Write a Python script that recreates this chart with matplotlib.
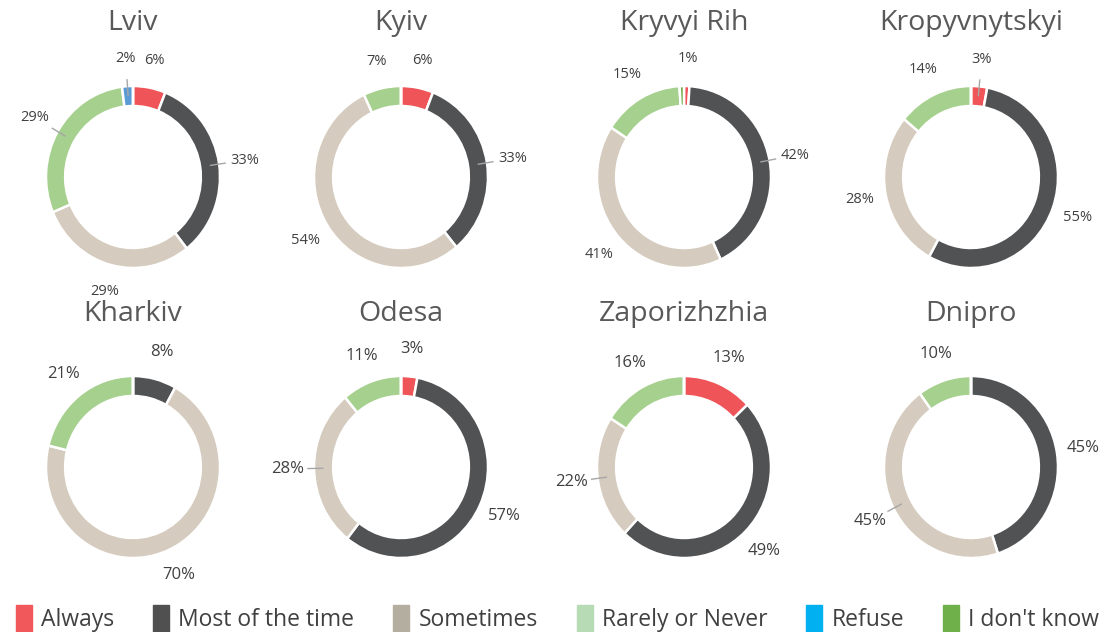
import matplotlib
matplotlib.use("Agg")
import matplotlib.pyplot as plt
from matplotlib.patches import Rectangle
import numpy as np

plt.rcParams['font.family'] = ['Open Sans', 'DejaVu Sans']

categories = ["Always", "Most of the time", "Sometimes", "Rarely or Never", "Refuse", "I don't know"]

cities = ["Lviv", "Kyiv", "Kryvyi Rih", "Kropyvnytskyi",
          "Kharkiv", "Odesa", "Zaporizhzhia", "Dnipro"]

# percent per category, same order as categories
lviv = [6, 33, 29, 29, 2, 0]
kyiv = [6, 33, 54, 7, 0, 0]
kryvyi_rih = [1, 42, 41, 15, 0, 0.8]
kropyvnytskyi = [3, 55, 28, 14, 0, 0]
kharkiv = [0, 8, 70, 21, 0, 0]
odesa = [3, 57, 28, 11, 0, 0]
zaporizhzhia = [13, 49, 22, 16, 0, 0]
dnipro = [0, 45, 45, 10, 0, 0]

city_values = [lviv, kyiv, kryvyi_rih, kropyvnytskyi,
               kharkiv, odesa, zaporizhzhia, dnipro]

# which labels get a leader line
leaders = {
    "Lviv": ["Most of the time", "Rarely or Never", "Refuse"],
    "Kyiv": ["Most of the time"],
    "Kryvyi Rih": ["Most of the time"],
    "Kropyvnytskyi": ["Always"],
    "Odesa": ["Sometimes"],
    "Zaporizhzhia": ["Sometimes"],
    "Dnipro": ["Sometimes"],
}

ring_colors = ["#EF5558", "#515254", "#D5CBBE", "#A6D08E", "#5B9BD5", "#70AD47"]
legend_colors = ["#F0585C", "#505050", "#B3AE9F", "#B7DBB5", "#00B0F0", "#70B04A"]

W, H = 1113, 632
fig = plt.figure(figsize=(W / 100, H / 100), dpi=100)

col_x = [133, 401, 684, 971]
row_y = [177, 467]
title_y = [23, 314]
RX, RY = 87, 91
S = 280

for i, (city, vals) in enumerate(zip(cities, city_values)):
    r, c = divmod(i, 4)
    cx, cy = col_x[c], row_y[r]
    ax = fig.add_axes([(cx - S / 2) / W, 1 - (cy + S / 2) / H, S / W, S / H])
    wedges, _ = ax.pie(vals, colors=ring_colors, startangle=90, counterclock=False,
                       wedgeprops=dict(width=0.22, edgecolor="white", linewidth=1.8))
    ax.set_xlim(-S / 2 / RX, S / 2 / RX)
    ax.set_ylim(-S / 2 / RY, S / 2 / RY)
    ax.set_aspect('auto')
    fs = 10.5 if r == 0 else 12
    for w, v, cat in zip(wedges, vals, categories):
        if v < 1:
            continue
        ang = np.deg2rad((w.theta1 + w.theta2) / 2)
        lx, ly = 1.3 * np.cos(ang), 1.3 * np.sin(ang)
        ax.text(lx, ly, f"{v:g}%", ha="center", va="center", fontsize=fs, color="#404040")
        if cat in leaders.get(city, []):
            ax.plot([0.9 * np.cos(ang), 1.07 * np.cos(ang)],
                    [0.9 * np.sin(ang), 1.07 * np.sin(ang)],
                    color="#A6A6A6", lw=1)
    fig.text(cx / W, 1 - title_y[r] / H, city, ha="center", va="center",
             fontsize=20.5, color="#595959")

handles = [Rectangle((0, 0), 1, 1, color=col) for col in legend_colors]
fig.legend(handles, categories, loc="lower left", ncol=6, mode="expand",
           bbox_to_anchor=(0.004, -0.018, 0.994, 0.07), frameon=False,
           fontsize=16.5, handlelength=0.7, handleheight=1.4, handletextpad=0.4,
           labelcolor="#404040", borderaxespad=0.1)

fig.savefig("out.png", dpi=100)
